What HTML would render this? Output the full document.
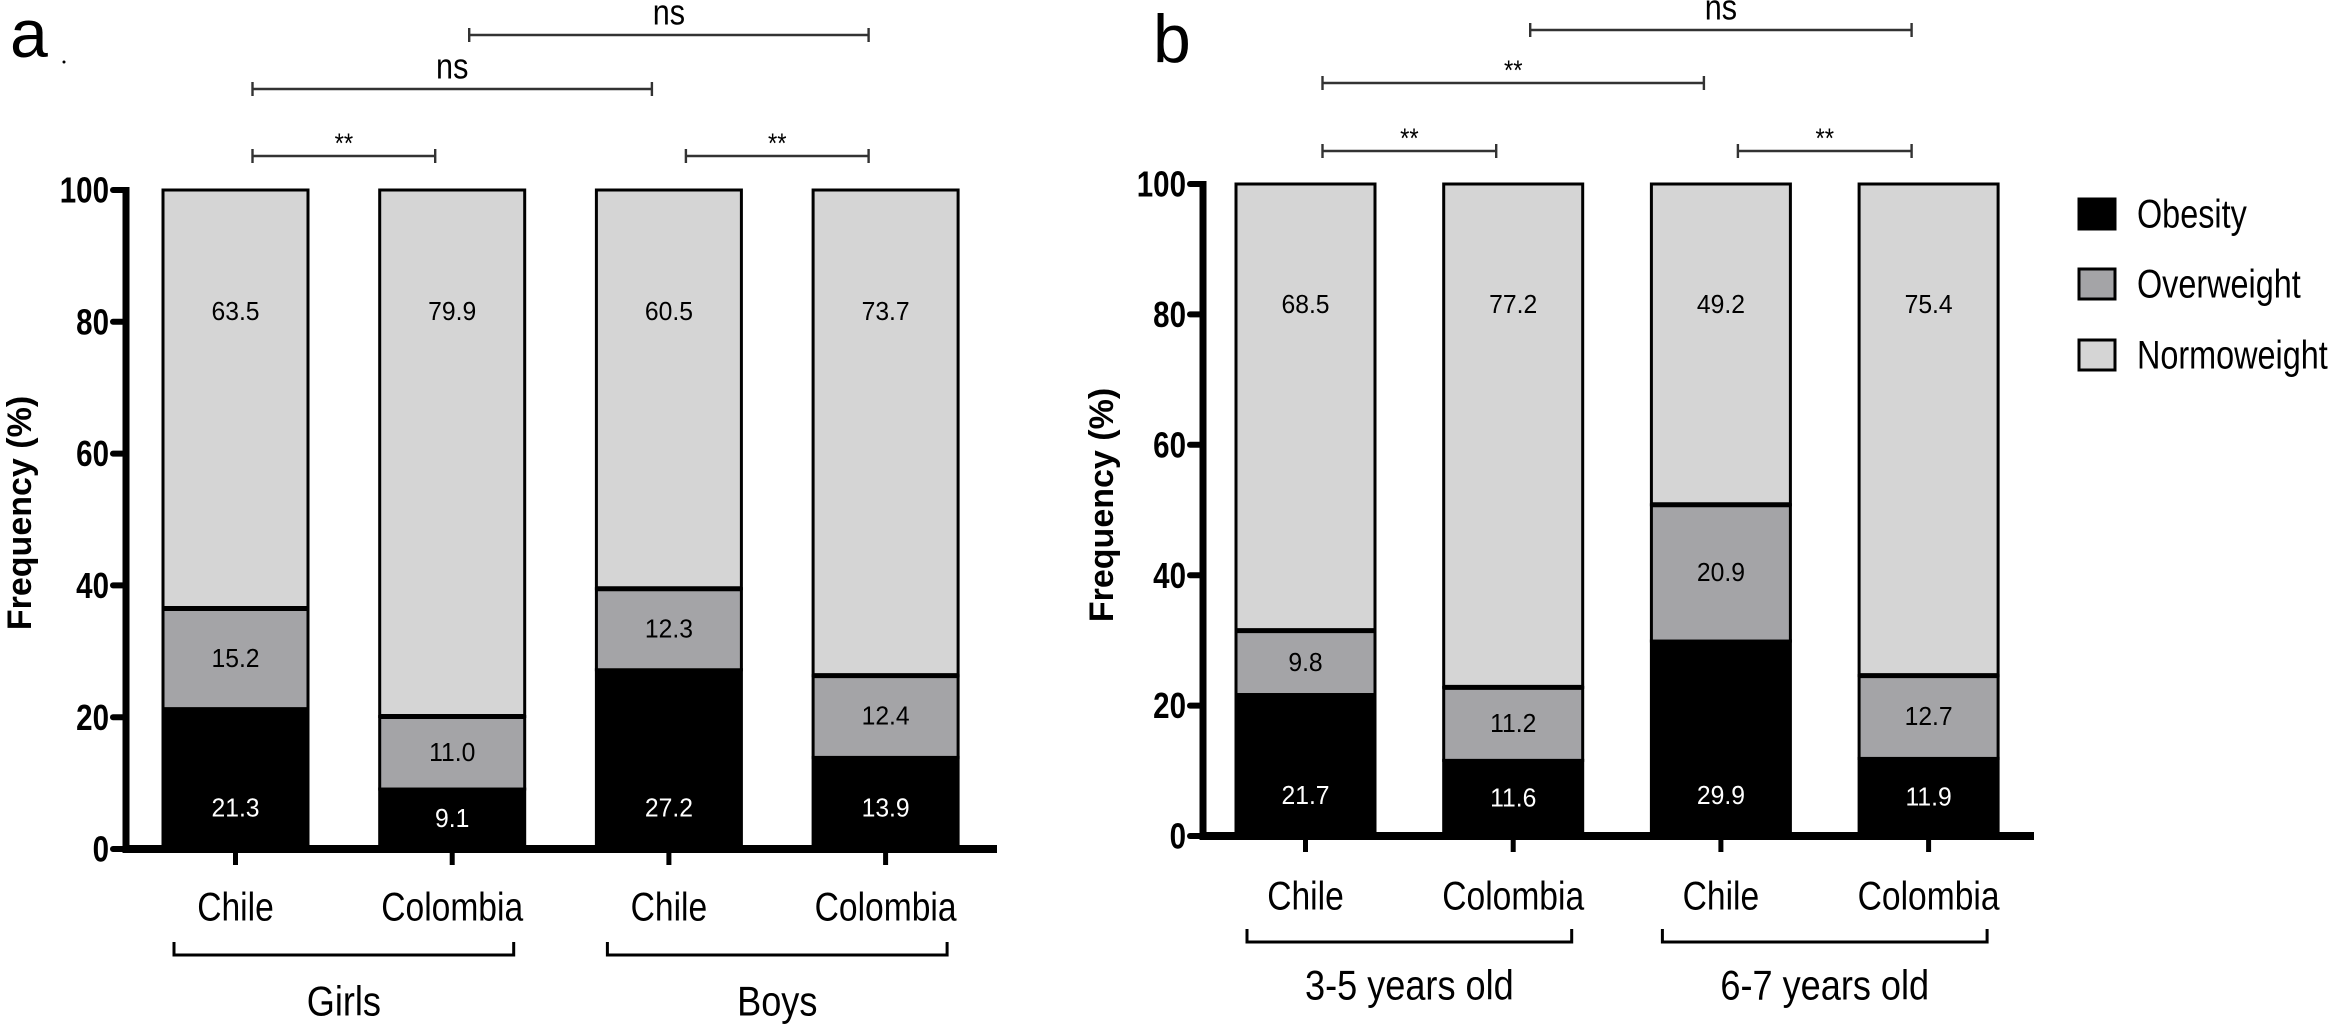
<!DOCTYPE html>
<html><head><meta charset="utf-8"><style>
html,body{margin:0;padding:0;background:#fff;}
svg{display:block;}
text{font-family:"Liberation Sans",Arial,sans-serif;}
</style></head><body>
<svg id="chart" width="2341" height="1030" viewBox="0 0 2341 1030" xmlns="http://www.w3.org/2000/svg"></svg>
<script>
const ticks = [0, 20, 40, 60, 80, 100];
const catsA = ["Chile", "Colombia", "Chile", "Colombia"];
const groupsA = ["Girls", "Boys"];
const obesityA = [21.3, 9.1, 27.2, 13.9];
const overweightA = [15.2, 11.0, 12.3, 12.4];
const normoA = [63.5, 79.9, 60.5, 73.7];
const catsB = ["Chile", "Colombia", "Chile", "Colombia"];
const groupsB = ["3-5 years old", "6-7 years old"];
const obesityB = [21.7, 11.6, 29.9, 11.9];
const overweightB = [9.8, 11.2, 20.9, 12.7];
const normoB = [68.5, 77.2, 49.2, 75.4];
const sigA = [[0, 1, "**"], [0, 2, "ns"], [2, 3, "**"], [1, 3, "ns"]];
const sigB = [[0, 1, "**"], [0, 2, "**"], [2, 3, "**"], [1, 3, "ns"]];

const svg = document.getElementById('chart');
const NS = "http://www.w3.org/2000/svg";
function mk(tag, attrs, parent) {
  const e = document.createElementNS(NS, tag);
  for (const k in attrs) e.setAttribute(k, attrs[k]);
  (parent || svg).appendChild(e);
  return e;
}
function txt(x, y, s, size, opts, parent) {
  opts = opts || {};
  const sx = opts.sx || 1;
  const t = mk('text', {x: 0, y: 0, 'font-size': size, 'text-anchor': opts.anchor || 'middle',
    'dominant-baseline': opts.base || 'central', fill: opts.fill || '#000',
    'font-weight': opts.bold ? 'bold' : 'normal',
    transform: 'translate(' + x + ',' + y + ') ' + (opts.rot ? 'rotate(' + opts.rot + ') ' : '') + 'scale(' + sx + ',1)'}, parent);
  t.textContent = s;
  return t;
}

function panel(cfg) {
  const g = mk('g', {});
  
  
  const y = v => cfg.y0 - (cfg.y0 - cfg.y100) * v / 100;
  const bx = i => cfg.barX0 + i * cfg.barStep;
  const L = txt(cfg.letterX, cfg.letterY, cfg.letter, 68, {base: 'alphabetic', anchor: 'start'}, g);
  
  
  const yt = txt(cfg.titleX, cfg.titleY, "Frequency (%)", 34, {bold: true, rot: -90}, g);
  
  
  for (let i = 0; i < cfg.ob.length; i++) {
    const x = bx(i), w = cfg.barW;
    const o = cfg.ob[i], ov = cfg.ov[i], n = cfg.no[i];
    const seg = [[0, o, '#000', 'obesity'], [o, o + ov, '#a4a4a7', 'overweight'], [o + ov, o + ov + n, '#d5d5d5', 'normoweight']];
    seg.forEach(s => {
      const r = mk('rect', {x: x, y: y(s[1]), width: w, height: y(s[0]) - y(s[1]), fill: s[2], stroke: '#000', 'stroke-width': 3}, g);
      
      
    });
    mk('line', {x1: x, x2: x + w, y1: y(o + ov), y2: y(o + ov), stroke: '#000', 'stroke-width': 5}, g);
    const cx = x + w / 2;
    const t1 = txt(cx, y(Math.min(o / 2, 6.2)), o.toFixed(1), 26, {fill: '#fff', sx: 0.95}, g);
    
    
    const t2 = txt(cx, y(o + ov / 2), ov.toFixed(1), 26, {sx: 0.95}, g);
    
    
    const t3 = txt(cx, y(81.5), n.toFixed(1), 26, {sx: 0.95}, g);
    
    
    mk('line', {x1: cx, x2: cx, y1: cfg.y0, y2: cfg.y0 + 16, stroke: '#000', 'stroke-width': 5}, g);
    const cl = txt(cx, cfg.catY, cfg.cats[i], 40, {sx: 0.84}, g);
    
    
  }
  const ya = mk('line', {x1: cfg.axisX, x2: cfg.axisX, y1: y(100) - 3, y2: cfg.y0 + 4, stroke: '#000', 'stroke-width': 7}, g);
  
  
  const xa = mk('line', {x1: cfg.axisX - 3, x2: cfg.axisEnd, y1: cfg.y0, y2: cfg.y0, stroke: '#000', 'stroke-width': 8}, g);
  
  
  ticks.forEach(t => {
    mk('line', {x1: cfg.axisX - 13, x2: cfg.axisX, y1: y(t), y2: y(t), stroke: '#000', 'stroke-width': 6, 'stroke-linecap': 'round'}, g);
    const tl = txt(cfg.axisX - 17, y(t), String(t), 36, {anchor: 'end', bold: true, sx: 0.82}, g);
    
    
  });
  for (let k = 0; k < cfg.groups.length; k++) {
    const x1 = bx(2 * k) + cfg.brPad, x2 = bx(2 * k + 1) + cfg.barW - cfg.brPad;
    const p = mk('path', {d: 'M' + x1 + ',' + cfg.brY0 + ' V' + cfg.brY1 + ' H' + x2 + ' V' + cfg.brY0, fill: 'none', stroke: '#000', 'stroke-width': 3}, g);
    
    
    const gl = txt((x1 + x2) / 2, cfg.groupY, cfg.groups[k], 42, {sx: 0.86}, g);
    
    
  }
  cfg.sig.forEach((s, j) => {
    const x1 = bx(s[0]) + cfg.barW / 2 + 17, x2 = bx(s[1]) + cfg.barW / 2 - 17;
    const yy = cfg.sigY[j];
    const p = mk('path', {d: 'M' + x1 + ',' + (yy - 7) + ' V' + (yy + 7) + ' M' + x1 + ',' + yy + ' H' + x2 + ' M' + x2 + ',' + (yy - 7) + ' V' + (yy + 7), fill: 'none', stroke: '#333', 'stroke-width': 2.4}, g);
    
    
    const st = txt((x1 + x2) / 2, yy - (s[2] === 'ns' ? 22 : 13), s[2], s[2] === 'ns' ? 36 : 28, {sx: 0.85}, g);
    
    
  });
}

panel({name: 'panel-a', letter: 'a', letterX: 10, letterY: 57, titleX: 20, titleY: 513,
  y0: 849, y100: 190, axisX: 126, axisEnd: 997, barX0: 163, barStep: 216.7, barW: 145,
  ob: obesityA, ov: overweightA, no: normoA, cats: catsA, groups: groupsA, catY: 907,
  brY0: 942, brY1: 955, brPad: 11, groupY: 1002, sig: sigA, sigY: [156, 89, 156, 35]});

panel({name: 'panel-b', letter: 'b', letterX: 1153, letterY: 62, titleX: 1102, titleY: 505,
  y0: 836, y100: 184, axisX: 1203, axisEnd: 2034, barX0: 1236, barStep: 207.7, barW: 139,
  ob: obesityB, ov: overweightB, no: normoB, cats: catsB, groups: groupsB, catY: 896,
  brY0: 929, brY1: 942, brPad: 11, groupY: 986, sig: sigB, sigY: [151, 83, 151, 30]});

const legend = mk('g', {});


const legLabels = ["Obesity", "Overweight", "Normoweight"];
const legColors = ["#000", "#a4a4a7", "#d5d5d5"];
const legY = [214, 284, 355];
legLabels.forEach((l, i) => {
  const r = mk('rect', {x: 2079, y: legY[i] - 15, width: 36, height: 30, fill: legColors[i], stroke: '#000', 'stroke-width': 3}, legend);
  
  
  const t = txt(2137, legY[i], l, 40, {anchor: 'start', sx: 0.81}, legend);
  
  
});
mk('circle', {cx: 64, cy: 62, r: 1.5, fill: '#000'});
</script>
</body></html>
